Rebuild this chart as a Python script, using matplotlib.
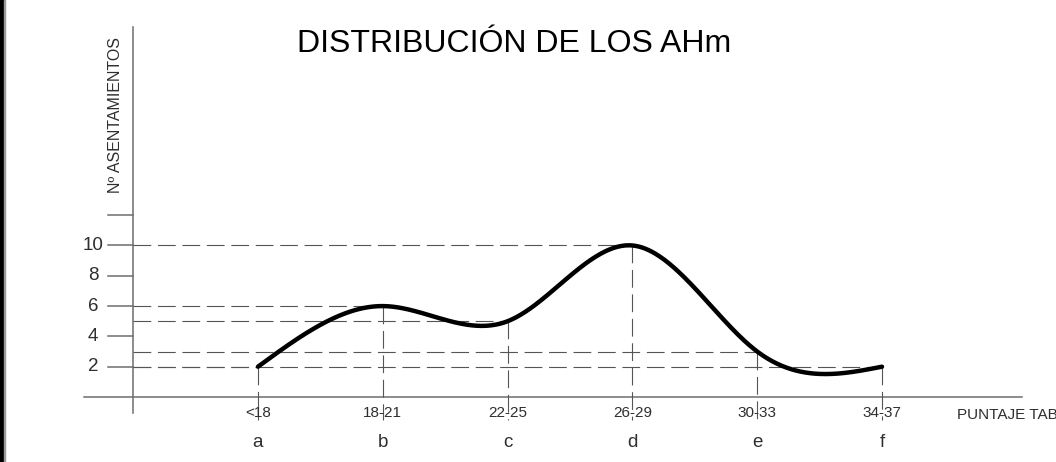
import numpy as np
import matplotlib
matplotlib.use("Agg")
from matplotlib import pyplot as plt
from matplotlib.patches import Rectangle

letras = ['a', 'b', 'c', 'd', 'e', 'f']
rangos = ['<18', '18-21', '22-25', '26-29', '30-33', '34-37']
asentamientos = [2, 6, 5, 10, 3, 2]
ticks_y = [2, 4, 6, 8, 10]

plt.rcParams['font.family'] = ['Liberation Sans', 'DejaVu Sans']


def spline_natural(x, y, n=400):
    # spline cubico natural a traves de los puntos
    x = np.asarray(x, dtype=float)
    y = np.asarray(y, dtype=float)
    k = len(x)
    h = np.diff(x)
    A = np.zeros((k, k))
    b = np.zeros(k)
    A[0, 0] = 1
    A[-1, -1] = 1
    for i in range(1, k - 1):
        A[i, i - 1] = h[i - 1]
        A[i, i] = 2 * (h[i - 1] + h[i])
        A[i, i + 1] = h[i]
        b[i] = 6 * ((y[i + 1] - y[i]) / h[i] - (y[i] - y[i - 1]) / h[i - 1])
    M = np.linalg.solve(A, b)
    xs = np.linspace(x[0], x[-1], n)
    ys = np.zeros(n)
    for j, xv in enumerate(xs):
        i = min(np.searchsorted(x, xv, side='right') - 1, k - 2)
        t0 = x[i + 1] - xv
        t1 = xv - x[i]
        ys[j] = (M[i] * t0 ** 3 + M[i + 1] * t1 ** 3) / (6 * h[i]) \
            + (y[i] / h[i] - M[i] * h[i] / 6) * t0 \
            + (y[i + 1] / h[i] - M[i + 1] * h[i] / 6) * t1
    return xs, ys


fig = plt.figure(figsize=(10.56, 4.62), dpi=100)
ax = fig.add_axes([0, 0, 1, 1])
ax.set_xlim(-2.067, 6.394)
ax.set_ylim(-4.29, 26.2)
ax.axis('off')

pos = np.arange(len(letras))
gris = '#6e6e6e'
texto = '#2e2e2e'
guion = dict(color='#555555', lw=0.8, dashes=(16, 6))

# ejes
ax.plot([-1.39, 6.12], [0, 0], color=gris, lw=1.1)
ax.plot([-1, -1], [-1.05, 24.4], color=gris, lw=1.1)
for t in ticks_y + [12]:
    ax.plot([-1.2, -1], [t, t], color=gris, lw=1.1)
for t in ticks_y:
    ax.text(-1.322, t, str(t), ha='center', va='center', fontsize=13.5, color=texto)

# lineas de referencia
for xp, v in zip(pos, asentamientos):
    ax.plot([-1, xp], [v, v], **guion)
    ax.plot([xp, xp], [v, -1.52], **guion)

xs, ys = spline_natural(pos, asentamientos)
ax.plot(xs, ys, color='black', lw=3.2, solid_capstyle='round')

for xp, r, l in zip(pos, rangos, letras):
    ax.text(xp, -1.32, r, ha='center', va='baseline', fontsize=11, color=texto)
    ax.text(xp, -3.3, l, ha='center', va='baseline', fontsize=13.5, color=texto)

ax.text(5.6, -1.45, 'PUNTAJE TABLA', ha='left', va='baseline', fontsize=11, color=texto)
ax.text(-1.14, 18.6, 'Nº ASENTAMIENTOS', rotation=90, ha='center', va='center',
        fontsize=11.5, color=texto)
ax.text(2.05, 22.77, 'DISTRIBUCIÓN DE LOS AHm', ha='center', va='baseline',
        fontsize=23, color='black')

fig.patches.append(Rectangle((0, 0), 3.5 / 1056, 1, color='black', transform=fig.transFigure))
fig.patches.append(Rectangle((3.5 / 1056, 0), 1.2 / 1056, 1, color='#9a9a9a', transform=fig.transFigure))

plt.savefig('out.png', dpi=100)
